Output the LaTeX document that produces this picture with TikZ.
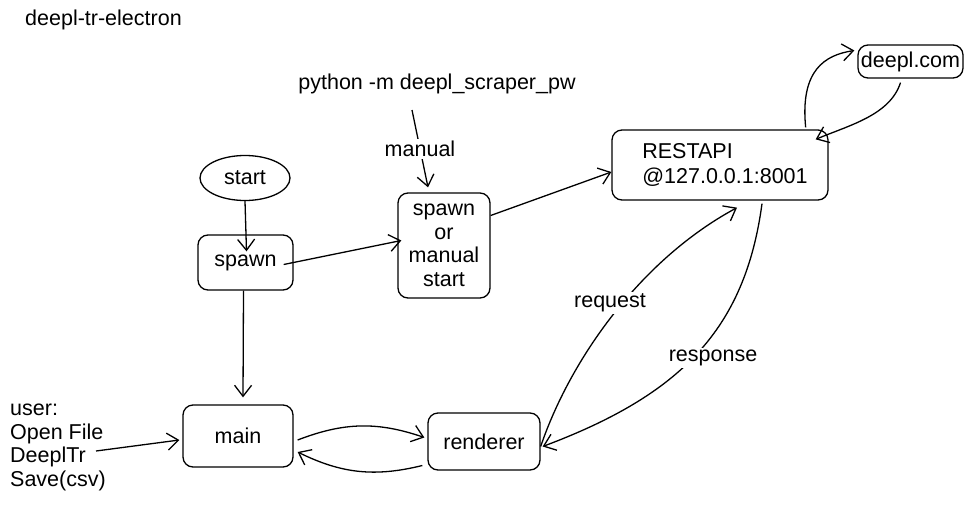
\documentclass[tikz,border=0pt]{standalone}
\usepackage{fontspec}
\setmainfont{Liberation Sans}
\usetikzlibrary{shapes.geometric,arrows.meta,calc}
\begin{document}
\begin{tikzpicture}[x=1pt,y=-1pt,
  box/.style={draw,rounded corners=10pt,line width=1.3pt,inner sep=0pt,font=\fontsize{21.5}{23.5}\selectfont,align=center},
  txt/.style={font=\fontsize{21.5}{23.5}\selectfont,inner sep=0pt},
  arr/.style={line width=1.3pt,-{Straight Barb[length=11pt,width=17pt,line width=1.3pt]}},
  lbl/.style={txt,fill=white,inner sep=2pt}]
\useasboundingbox (0,0) rectangle (973,506);
% nodes
\node[txt,anchor=west] (title) at (25,20) {deepl-tr-electron};
\node[draw,ellipse,line width=1.3pt,minimum width=90pt,minimum height=45pt,txt] (start) at (245,178) {start};
\node[box,minimum width=95pt,minimum height=55pt] (spawn) at (245.5,262.5) {spawn};
\node[box,minimum width=92pt,minimum height=105pt] (sms) at (444,245.5) {spawn\\or\\manual\\start};
\node[box,minimum width=216pt,minimum height=70pt,align=left,font=\fontsize{21.5}{25}\selectfont] (rest) at (720,165) {\hspace*{10pt}RESTAPI\\\hspace*{10pt}@127.0.0.1:8001};
\node[box,minimum width=105pt,minimum height=33pt] (deepl) at (910.5,61.5) {deepl.com};
\node[box,minimum width=110pt,minimum height=62pt] (main) at (238,436) {main};
\node[box,minimum width=112pt,minimum height=57pt] (renderer) at (484,441.5) {renderer};
\node[txt,anchor=north west,align=left] (user) at (10,404) {user:\\Open File\\DeeplTr\\Save(csv)};
\node[txt] (python) at (437,84) {python -m deepl\_scraper\_pw};
% connectors
\coordinate (pm) at (412,110);
\draw[arr] (pm) -- node[lbl] (manual) {manual} ($(sms.north)+(-16,-5)$);
\draw[arr] (start.south) -- ($(spawn.north)+(1,17)$);
\draw[arr] ($(spawn.east)+(-10,2)$) -- ($(sms.west)+(4,-5)$);
\draw[arr] ($(sms.east)+(0,-30)$) -- ($(rest.west)+(0,7)$);
\draw[arr] ($(spawn.south)+(-2,0)$) -- ($(main.north)+(5,-7)$);
\coordinate (ue) at (96,451);
\draw[arr] (ue) -- ($(main.west)+(-3,4)$);
\draw[arr] ($(main.east)+(4,4)$) to[bend left=20] ($(renderer.west)+(-3,-4)$);
\draw[arr] ($(renderer.west)+(-5,24)$) to[bend left=20] ($(main.east)+(4,16)$);
\draw[arr] ($(renderer.east)+(0,5)$) .. controls (570,360) and (640,260) .. ($(rest.south)+(17,7)$);
\draw[arr] ($(rest.south)+(42,3)$) .. controls (745,330) and (680,395) .. ($(renderer.east)+(2,5)$);
\node[lbl] (req) at (610,303) {request};
\node[lbl] (resp) at (713,358) {response};
\draw[arr] ($(rest.north east)+(-23,-2)$) .. controls (800,70) and (825,55) .. ($(deepl.west)+(-3,-11)$);
\draw[arr] ($(deepl.south)+(-10,4)$) .. controls (890,115) and (850,125) .. ($(rest.north east)+(-13,10)$);
\end{tikzpicture}
\end{document}
